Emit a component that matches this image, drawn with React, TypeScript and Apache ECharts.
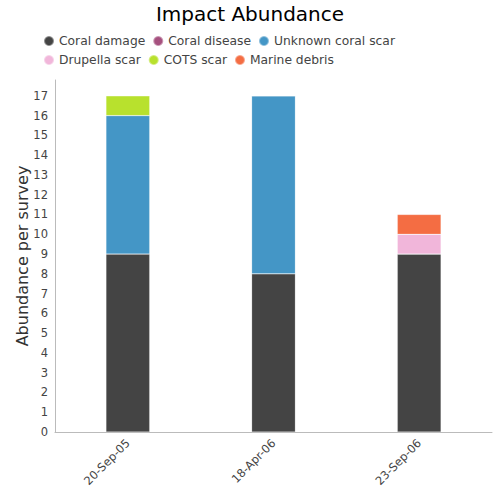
import React, { useEffect, useRef } from "react";
import * as echarts from "echarts";

const categories = ["20-Sep-05", "18-Apr-06", "23-Sep-06"];
const seriesNames = [
  "Coral damage",
  "Coral disease",
  "Unknown coral scar",
  "Drupella scar",
  "COTS scar",
  "Marine debris",
];
const coralDamage = [9, 8, 9];
const coralDisease = [0, 0, 0];
const unknownScar = [7, 9, 0];
const drupellaScar = [0, 0, 1];
const cotsScar = [1, 0, 0];
const marineDebris = [0, 0, 1];
const colors = ["#444444", "#a6517f", "#4496c6", "#f1b6da", "#b8e12d", "#f46d43"];

const seriesData = [coralDamage, coralDisease, unknownScar, drupellaScar, cotsScar, marineDebris];

export default function App() {
  const ref = useRef<HTMLDivElement>(null);
  useEffect(() => {
    if (!ref.current) return;
    const chart = echarts.init(ref.current, null, { renderer: "svg" });
    const font = "DejaVu Sans";
    chart.setOption({
      animation: false,
      textStyle: { fontFamily: font },
      title: {
        text: "Impact Abundance",
        left: "center",
        top: 0,
        padding: [4, 5, 5, 5],
        textStyle: { fontFamily: font, fontSize: 20, fontWeight: "normal", color: "#000" },
      },
      legend: {
        left: 38,
        top: 30,
        width: 360,
        itemGap: 7,
        itemWidth: 10,
        itemHeight: 10,
        icon: "circle",
        textStyle: { fontFamily: font, fontSize: 12.3, color: "#444" },
        data: seriesNames,
      },
      grid: { left: 55, right: 8, top: 80, bottom: 68, containLabel: false },
      xAxis: {
        type: "category",
        data: categories,
        axisLine: { lineStyle: { color: "#bbb" } },
        axisTick: { show: false },
        axisLabel: { rotate: 45, fontFamily: font, fontSize: 11.5, color: "#444", margin: 9 },
      },
      yAxis: {
        type: "value",
        min: 0,
        max: 17.8,
        interval: 1,
        name: "Abundance per survey",
        nameLocation: "middle",
        nameGap: 25,
        nameMoveOverlap: false,
        nameTextStyle: { fontFamily: font, fontSize: 16, color: "#333" },
        axisLine: { show: true, lineStyle: { color: "#bbb" } },
        axisTick: { show: false },
        splitLine: { show: false },
        axisLabel: {
          fontFamily: font,
          fontSize: 11.5,
          color: "#444",
          margin: 7,
          formatter: (v: number) => (Number.isInteger(v) ? String(v) : ""),
        },
      },
      series: seriesNames.map((name, i) => ({
        name,
        type: "bar",
        stack: "total",
        barWidth: "30%",
        data: seriesData[i],
        itemStyle: { color: colors[i], borderColor: "rgba(255,255,255,0.4)", borderWidth: 0.5 },
      })),
    });
    return () => chart.dispose();
  }, []);
  return (
    <div
      ref={ref}
      style={{ position: "absolute", left: 0, top: 0, width: 500, height: 500 }}
    />
  );
}
